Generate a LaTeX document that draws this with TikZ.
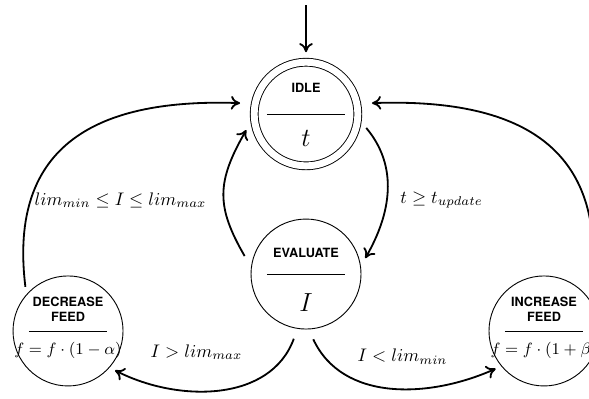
\documentclass[tikz,border=0pt]{standalone}
\usepackage{fontspec}
\newfontfamily\statefont{TeX Gyre Heros}
\usetikzlibrary{arrows.meta,positioning}
\newcommand{\statebody}[4]{%
  \vbox{\offinterlineskip\hsize=36pt
    \vbox to 21pt{\vfil\hbox to\hsize{\hss#2\hss}\vskip#1}%
    \hbox to\hsize{\hss\vrule width 43pt height 0.5pt depth 0pt\hss}%
    \vbox to 21pt{\vskip#4\hbox to\hsize{\hss#3\hss}\vfil}}}
\tikzset{
    state/.style={
        draw,circle,line width=0.5pt,minimum size=60.5pt,inner sep=0pt,
        outer sep=3.5pt,font=\statefont\bfseries\scriptsize
    },
    startstate/.style={
        state,double,double distance=3.8pt,minimum size=57pt,outer sep=5.5pt
    },
    edge/.style={
        -{To[length=5pt,width=7.5pt]},line width=1pt
    },
    cond/.style={inner sep=1pt}
}
\begin{document}
\begin{tikzpicture}
\useasboundingbox (-5.915,-2.397) rectangle (5.470,5.297);

\node[state] (evaluate) at (0,0)
    {\statebody{9pt}{EVALUATE}{\Large$I$}{10.5pt}};
\node[startstate] (idle) at (0,3.093)
    {\statebody{11.8pt}{IDLE}{\Large$t$}{8.8pt}};
\node[state] (decrease) at (-4.60,-1.10)
    {\statebody{2.8pt}{\begin{tabular}{@{}c@{}}DECREASE\\FEED\end{tabular}}{\small$f=f\cdot(1-\alpha)$}{6pt}};
\node[state] (increase) at (4.60,-1.10)
    {\statebody{2.8pt}{\begin{tabular}{@{}c@{}}INCREASE\\FEED\end{tabular}}{\small$f=f\cdot(1+\beta)$}{6pt}};
\coordinate (init) at (0,5.20);

\node[cond] (stay) at (-3.586,1.430) {$lim_{min} \leq I \leq lim_{max}$};
\node[cond] (update) at (2.619,1.430) {$t \geq t_{update}$};
\node[cond] (toomuch) at (-2.117,-1.508) {$I > lim_{max}$};
\node[cond] (toolittle) at (1.865,-1.604) {$I < lim_{min}$};

\draw[edge] (init) -- (idle);
\draw[edge] (idle.-13) to[out=-50,in=60] (evaluate.15);
\draw[edge,shorten <=2pt] (evaluate.166) to[out=120,in=-120,looseness=1.2] (idle.195);
\draw[edge,shorten >=2.8pt] (decrease.134) to[out=97,in=178,looseness=1.3] (idle.170);
\draw[edge,shorten >=2.8pt] (increase.40) to[out=83,in=2,looseness=1.3] (idle.10);
\draw[edge,shorten <=2.5pt] (evaluate.260) to[out=-110,in=-27] (decrease.320);
\draw[edge,shorten <=2.5pt] (evaluate.275) to[out=-65,in=204] (increase.218);

\end{tikzpicture}
\end{document}
